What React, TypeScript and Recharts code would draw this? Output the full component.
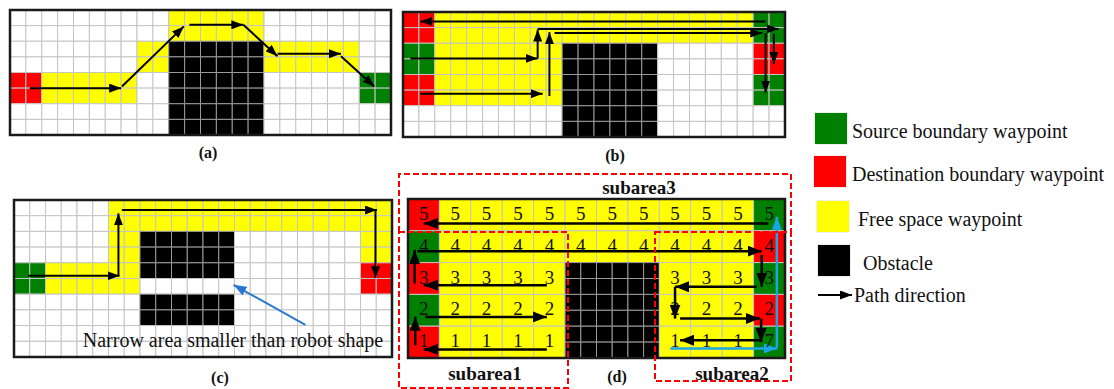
import React from "react";
import { ScatterChart, XAxis, YAxis, ReferenceArea, ReferenceLine, Scatter } from "recharts";

// cell codes: w free (white), y free space waypoint, k obstacle, r destination, g source
const COLORS: Record<string, string> = {
  w: "#ffffff",
  y: "#ffff00",
  k: "#000000",
  r: "#ff0000",
  g: "#008000",
};

const mapA = [
  "wwwwwwwwwwyyyyyywwwwwwww",
  "wwwwwwwwwwyyyyyywwwwwwww",
  "wwwwwwwwyykkkkkkyyyyyyww",
  "wwwwwwwwyykkkkkkyyyyyyww",
  "rryyyyyywwkkkkkkwwwwwwgg",
  "rryyyyyywwkkkkkkwwwwwwgg",
  "wwwwwwwwwwkkkkkkwwwwwwww",
  "wwwwwwwwwwkkkkkkwwwwwwww",
];

const mapB = [
  "rryyyyyyyyyyyyyyyyyyyygg",
  "rryyyyyyyyyyyyyyyyyyyygg",
  "ggyyyyyyyykkkkkkwwwwwwrr",
  "ggyyyyyyyykkkkkkwwwwwwrr",
  "rryyyyyyyykkkkkkwwwwwwgg",
  "rryyyyyyyykkkkkkwwwwwwgg",
  "wwwwwwwwwwkkkkkkwwwwwwww",
  "wwwwwwwwwwkkkkkkwwwwwwww",
];

const mapC = [
  "wwwwwwyyyyyyyyyyyyyyyyyy",
  "wwwwwwyyyyyyyyyyyyyyyyyy",
  "wwwwwwyykkkkkkwwwwwwwwyy",
  "wwwwwwyykkkkkkwwwwwwwwyy",
  "ggyyyyyykkkkkkwwwwwwwwrr",
  "ggyyyyyywwwwwwwwwwwwwwrr",
  "wwwwwwwwkkkkkkwwwwwwwwww",
  "wwwwwwwwkkkkkkwwwwwwwwww",
  "wwwwwwwwwwwwwwwwwwwwwwww",
  "wwwwwwwwwwwwwwwwwwwwwwww",
];

const mapD = [
  "ryyyyyyyyyyg",
  "gyyyyyyyyyyr",
  "ryyyykkkyyyg",
  "gyyyykkkyyyr",
  "ryyyykkkyyyg",
];

// sweep order numbers written in panel (d)
const numbersD = [
  "555555555555",
  "444444444444",
  "33333   3333",
  "22222   2222",
  "11111   1117",
];

type Seg = [number, number, number, number];

const arrowsA: Seg[] = [
  [1.25, 5, 7, 5],
  [7.05, 4.9, 10.95, 1.05],
  [11.3, 0.95, 14.7, 0.95],
  [14.7, 0.95, 16.85, 2.96],
  [16.85, 2.8, 20.85, 2.8],
  [20.85, 2.96, 22.95, 4.9],
];

const arrowsB: Seg[] = [
  [22.78, 0.6, 1.09, 0.6],
  [0.46, 2.97, 8.46, 2.97],
  [8.46, 2.97, 8.46, 1.12],
  [8.46, 1.08, 23.6, 1.08],
  [23.3, 1.4, 23.3, 3.33],
  [1.09, 5.23, 8.78, 5.23],
  [9.2, 5.38, 9.2, 1.29],
  [9.52, 1.35, 22.57, 1.35],
  [22.78, 1.35, 22.78, 5.16],
];

const arrowsC: Seg[] = [
  [0.9, 4.83, 6.7, 4.83],
  [6.63, 4.83, 6.63, 0.85],
  [6.85, 0.64, 23.05, 0.64],
  [22.95, 0.64, 22.95, 4.98],
];
const pointerC: Seg[] = [[18.5, 7.95, 13.94, 5.4]];

const arrowsD: Seg[] = [
  [4.42, 4.73, 0.5, 4.73],
  [0.23, 4.6, 0.23, 3.7],
  [0.55, 3.71, 4.42, 3.71],
  [4.42, 2.71, 0.5, 2.71],
  [0.21, 2.66, 0.21, 1.6],
  [0.29, 1.64, 11.26, 1.64],
  [11.47, 0.77, 0.5, 0.77],
  [11.26, 1.76, 11.26, 2.76],
  [11.1, 2.76, 8.5, 2.76],
  [8.5, 2.76, 8.5, 3.76],
  [8.66, 3.76, 11.2, 3.76],
  [11.24, 3.76, 11.24, 4.5],
  [11.2, 4.44, 8.66, 4.44],
];
const blueD: Seg[] = [
  [8.35, 4.7, 11.74, 4.7],
  [11.74, 4.7, 11.74, 0.56],
];

const legendItems = [
  { label: "Source boundary waypoint", color: "#008000" },
  { label: "Destination boundary waypoint", color: "#ff0000" },
  { label: "Free space waypoint", color: "#ffff00" },
  { label: "Obstacle", color: "#000000" },
];

const FONT = '"Liberation Serif", "Times New Roman", serif';

interface ArrowSet {
  segs: Seg[];
  color: string;
  width: number;
  marker: string;
}

interface PanelProps {
  map: string[];
  left: number;
  top: number;
  width: number;
  height: number;
  arrows: ArrowSet[];
  splitObstacle?: boolean;
  numbers?: string[];
}

function GridPanel({ map, left, top, width, height, arrows, splitObstacle, numbers }: PanelProps) {
  const rows = map.length;
  const cols = map[0].length;
  const pad = 3;

  const cells: { x1: number; x2: number; y1: number; y2: number; c: string }[] = [];
  map.forEach((row, r) => {
    row.split("").forEach((c, ci) => {
      if (splitObstacle && c === "k") {
        for (let i = 0; i < 2; i++)
          for (let j = 0; j < 2; j++)
            cells.push({ x1: ci + i / 2, x2: ci + (i + 1) / 2, y1: r + j / 2, y2: r + (j + 1) / 2, c });
      } else {
        cells.push({ x1: ci, x2: ci + 1, y1: r, y2: r + 1, c });
      }
    });
  });

  const labels: { x: number; y: number; v: string }[] = [];
  (numbers || []).forEach((row, r) =>
    row.split("").forEach((v, ci) => {
      if (v !== " ") labels.push({ x: ci + 0.5, y: r + 0.5, v });
    })
  );
  const points = labels.length ? labels : [{ x: 0, y: 0, v: "" }, { x: cols, y: rows, v: "" }];

  return (
    <div style={{ position: "absolute", left: left - pad, top: top - pad }}>
      <ScatterChart
        width={width + 2 * pad}
        height={height + 2 * pad}
        margin={{ top: pad, right: pad, bottom: pad, left: pad }}
      >
        <XAxis type="number" dataKey="x" domain={[0, cols]} hide allowDataOverflow />
        <YAxis type="number" dataKey="y" domain={[0, rows]} reversed hide allowDataOverflow />
        {cells.map((c, i) => (
          <ReferenceArea
            key={"c" + i}
            x1={c.x1}
            x2={c.x2}
            y1={c.y1}
            y2={c.y2}
            fill={COLORS[c.c]}
            fillOpacity={1}
            stroke={c.c === "k" ? "#9a9a9a" : "#c4c4c4"}
            strokeWidth={1}
            ifOverflow="visible"
          />
        ))}
        <ReferenceArea
          x1={0}
          x2={cols}
          y1={0}
          y2={rows}
          fill="none"
          stroke="#1a1a1a"
          strokeWidth={2.5}
          ifOverflow="visible"
        />
        {arrows.map((set, si) =>
          set.segs.map((s, i) => (
            <ReferenceLine
              key={"a" + si + "-" + i}
              segment={[
                { x: s[0], y: s[1] },
                { x: s[2], y: s[3] },
              ]}
              ifOverflow="visible"
              stroke={set.color}
              shape={(p: any) => (
                <line
                  x1={p.x1}
                  y1={p.y1}
                  x2={p.x2}
                  y2={p.y2}
                  stroke={set.color}
                  strokeWidth={set.width}
                  markerEnd={`url(#${set.marker})`}
                />
              )}
            />
          ))
        )}
        <Scatter
          data={points}
          isAnimationActive={false}
          shape={(p: any) =>
            p.payload && p.payload.v ? (
              <text
                x={p.cx}
                y={p.cy}
                dy={5}
                textAnchor="middle"
                fontSize={19}
                fontFamily={FONT}
                fill="#111"
              >
                {p.payload.v}
              </text>
            ) : (
              <g />
            )
          }
        />
      </ScatterChart>
    </div>
  );
}

function Text({
  x,
  y,
  children,
  size = 20,
  bold = false,
  center = true,
}: {
  x: number;
  y: number;
  children: React.ReactNode;
  size?: number;
  bold?: boolean;
  center?: boolean;
}) {
  return (
    <div
      style={{
        position: "absolute",
        left: x,
        top: y,
        transform: center ? "translate(-50%, -50%)" : "translate(0, -50%)",
        fontFamily: FONT,
        fontSize: size,
        fontWeight: bold ? 700 : 400,
        lineHeight: 1,
        whiteSpace: "nowrap",
        color: "#111",
      }}
    >
      {children}
    </div>
  );
}

function Marker({ id, color, len, wid }: { id: string; color: string; len: number; wid: number }) {
  return (
    <marker
      id={id}
      markerUnits="userSpaceOnUse"
      markerWidth={len}
      markerHeight={wid}
      refX={len}
      refY={wid / 2}
      orient="auto"
    >
      <path d={`M0,0 L${len},${wid / 2} L0,${wid} z`} fill={color} />
    </marker>
  );
}

export default function App() {
  return (
    <div
      style={{
        position: "absolute",
        left: 0,
        top: 0,
        width: 1114,
        height: 389,
        background: "#fff",
        overflow: "hidden",
      }}
    >
      <svg width={0} height={0} style={{ position: "absolute" }}>
        <defs>
          <Marker id="ahS" color="#000" len={12} wid={9} />
          <Marker id="ahD" color="#000" len={14} wid={11} />
          <Marker id="ahBlueC" color="#2b78d0" len={13} wid={10} />
          <Marker id="ahBlueD" color="#1ba5e6" len={13} wid={10} />
        </defs>
      </svg>

      <GridPanel
        map={mapA}
        left={10}
        top={10}
        width={381}
        height={125}
        arrows={[{ segs: arrowsA, color: "#000", width: 2, marker: "ahS" }]}
      />
      <GridPanel
        map={mapB}
        left={403}
        top={12}
        width={382}
        height={125}
        arrows={[{ segs: arrowsB, color: "#000", width: 2, marker: "ahS" }]}
      />
      <GridPanel
        map={mapC}
        left={14}
        top={200}
        width={378}
        height={157}
        arrows={[
          { segs: arrowsC, color: "#000", width: 2, marker: "ahS" },
          { segs: pointerC, color: "#2b78d0", width: 2, marker: "ahBlueC" },
        ]}
      />
      <GridPanel
        map={mapD}
        left={408}
        top={199}
        width={377}
        height={159}
        splitObstacle
        numbers={numbersD}
        arrows={[
          { segs: arrowsD, color: "#000", width: 2.5, marker: "ahD" },
          { segs: blueD, color: "#1ba5e6", width: 2.5, marker: "ahBlueD" },
        ]}
      />

      <Text x={233} y={340}>Narrow area smaller than robot shape</Text>

      <svg width={1114} height={389} style={{ position: "absolute", left: 0, top: 0, pointerEvents: "none" }}>
        <g fill="none" stroke="#ff0000" strokeWidth={2} strokeDasharray="6 3">
          <path d="M399,232 V174 H791 V232" />
          <rect x={399} y={232} width={169} height={156} />
          <rect x={655} y={232} width={136} height={149} />
        </g>
      </svg>

      <Text x={208} y={153} size={16} bold>(a)</Text>
      <Text x={615} y={156} size={16} bold>(b)</Text>
      <Text x={220} y={378} size={16} bold>(c)</Text>
      <Text x={617} y={377} size={16} bold>(d)</Text>
      <Text x={639} y={187} size={19} bold>subarea3</Text>
      <Text x={485} y={373} size={19} bold>subarea1</Text>
      <Text x={732} y={373} size={19} bold>subarea2</Text>

      {legendItems.map((it, i) => {
        const tops = [113, 156, 201, 245];
        const lefts = [815, 814, 817, 818];
        const textLefts = [852, 852, 858, 863];
        return (
          <React.Fragment key={it.label}>
            <div
              style={{
                position: "absolute",
                left: lefts[i],
                top: tops[i],
                width: 32,
                height: 31,
                background: it.color,
                boxShadow: "0 0 1px #999",
              }}
            />
            <Text x={textLefts[i]} y={tops[i] + 18} center={false}>
              {it.label}
            </Text>
          </React.Fragment>
        );
      })}
      <svg width={40} height={12} style={{ position: "absolute", left: 816, top: 289 }}>
        <line x1={2} y1={6} x2={36} y2={6} stroke="#000" strokeWidth={2} markerEnd="url(#ahS)" />
      </svg>
      <Text x={854} y={295} center={false}>Path direction</Text>
    </div>
  );
}
